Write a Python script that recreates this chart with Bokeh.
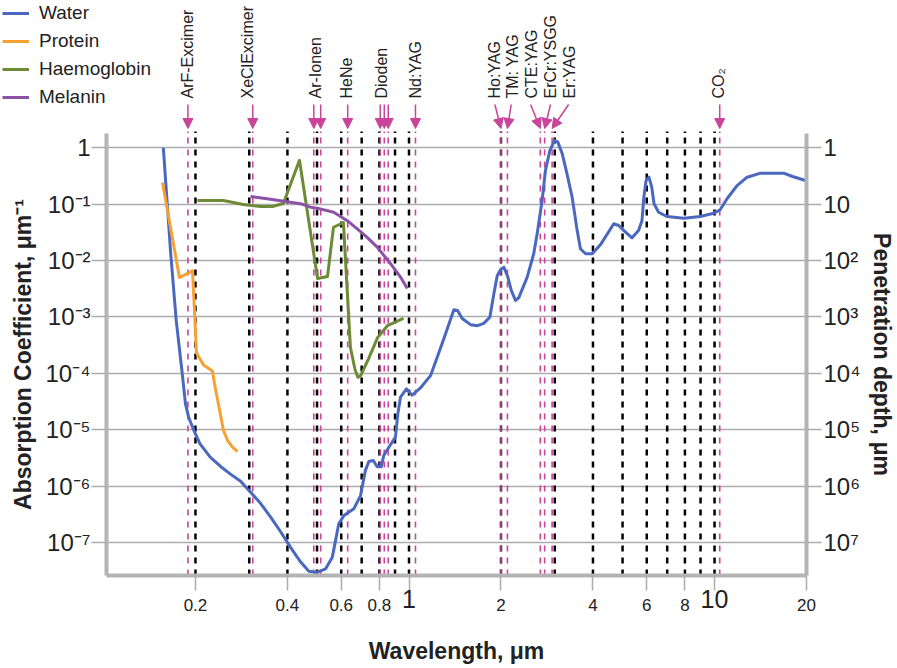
import math
from bokeh.plotting import figure
from bokeh.layouts import column
from bokeh.models import (FixedTicker, Legend, LegendItem, Arrow, NormalHead,
                          ColumnDataSource, LogAxis, Range1d)
from bokeh.core.properties import value
from bokeh.embed import file_html
from bokeh.resources import INLINE

# ---------------- data ----------------
water_wl = [0.157, 0.166, 0.173, 0.181, 0.1855, 0.190, 0.1976, 0.207, 0.2235, 0.2417,
            0.2598, 0.281, 0.303, 0.327, 0.353, 0.381, 0.409, 0.442, 0.470, 0.500,
            0.533, 0.561, 0.575, 0.589, 0.612, 0.660, 0.694, 0.720, 0.739, 0.764,
            0.787, 0.811, 0.827, 0.859, 0.903, 0.919, 0.938, 0.981, 1.024, 1.09,
            1.176, 1.237, 1.30, 1.367, 1.402, 1.442, 1.493, 1.590, 1.676, 1.757,
            1.839, 1.896, 1.944, 2.00, 2.045, 2.106, 2.164, 2.232, 2.288, 2.437,
            2.56, 2.627, 2.727, 2.796, 2.891, 2.996, 3.07, 3.174, 3.29, 3.42,
            3.552, 3.64, 3.783, 3.98, 4.23, 4.68, 4.86, 5.05, 5.37, 5.64,
            5.79, 5.87, 5.97, 6.10, 6.23, 6.34, 6.56, 6.98, 7.93, 8.98,
            9.94, 10.43, 10.99, 11.85, 12.79, 14.14, 16.84, 18.0, 19.86]
water_abs = [1.0, 1.32e-2, 8.7e-4, 1.0e-4, 2.88e-5, 1.67e-5, 9.7e-6, 5.6e-6, 3.26e-6, 2.23e-6,
             1.65e-6, 1.22e-6, 7.8e-7, 4.9e-7, 2.8e-7, 1.52e-7, 8.3e-8, 4.5e-8, 3.1e-8, 2.94e-8,
             3.4e-8, 5.5e-8, 1.09e-7, 2.15e-7, 3.0e-7, 3.97e-7, 6.8e-7, 1.9e-6, 2.73e-6, 2.85e-6,
             2.2e-6, 2.2e-6, 3.5e-6, 4.9e-6, 7.4e-6, 1.9e-5, 3.8e-5, 5.3e-5, 4.1e-5, 5.5e-5,
             9.1e-5, 1.93e-4, 4.1e-4, 9.0e-4, 1.34e-3, 1.30e-3, 9.4e-4, 7.3e-4, 7.0e-4, 7.7e-4,
             9.9e-4, 2.58e-3, 5.4e-3, 7.1e-3, 7.6e-3, 5.1e-3, 2.9e-3, 1.96e-3, 2.2e-3, 5.1e-3,
             1.32e-2, 3.0e-2, 0.116, 0.395, 0.895, 1.35, 1.26, 0.783, 0.346, 0.133,
             0.034, 0.0162, 0.0132, 0.0132, 0.019, 0.0449, 0.0419, 0.034, 0.0253, 0.034,
             0.0514, 0.133, 0.263, 0.301, 0.20, 0.102, 0.072, 0.0605, 0.0564, 0.0605,
             0.0692, 0.0795, 0.125, 0.214, 0.301, 0.355, 0.355, 0.31, 0.263]

protein_wl = [0.156, 0.1773, 0.1956, 0.2016, 0.2125, 0.2274, 0.2308, 0.247, 0.2546, 0.2644, 0.2746]
protein_abs = [0.243, 5.0e-3, 6.6e-3, 2.3e-4, 1.4e-4, 1.1e-4, 6.6e-5, 9.7e-6, 6.5e-6, 4.9e-6, 4.1e-6]

hb_wl = [0.203, 0.247, 0.287, 0.327, 0.357, 0.388, 0.438, 0.502, 0.541, 0.566,
         0.610, 0.643, 0.665, 0.680, 0.694, 0.737, 0.789, 0.850, 0.959]
hb_abs = [0.116, 0.116, 0.099, 0.091, 0.091, 0.103, 0.60, 4.8e-3, 5.2e-3, 0.039,
          0.047, 2.9e-4, 1.2e-4, 8.5e-5, 9.0e-5, 1.8e-4, 4.3e-4, 7.0e-4, 9.4e-4]

melanin_wl = [0.303, 0.343, 0.389, 0.441, 0.476, 0.500, 0.567, 0.628, 0.677, 0.728,
              0.787, 0.870, 0.938, 0.987]
melanin_abs = [0.137, 0.125, 0.113, 0.102, 0.0885, 0.085, 0.072, 0.051, 0.0366, 0.026,
               0.0173, 8.8e-3, 5.1e-3, 3.2e-3]

series_names = ["Water", "Protein", "Haemoglobin", "Melanin"]

# black dashed reference wavelengths
ref_wl = [0.2, 0.3, 0.4, 0.5, 0.6, 0.7, 0.8, 0.9, 1.0, 2.0, 3.0, 4.0, 5.0, 6.0, 7.0, 8.0, 9.0, 10.0]
# laser lines (magenta dashed) and where their arrows start
laser_wl = [0.189, 0.308, 0.488, 0.514, 0.63, 0.805, 0.83, 0.855, 1.05, 2.0, 2.1, 2.69, 2.78, 2.94, 10.4]
arrow_tail_wl = [0.189, 0.308, 0.488, 0.514, 0.63, 0.805, 0.83, 0.855, 1.05, 1.91, 2.16, 2.50, 2.905, 3.33, 10.4]
laser_names = ["ArF-Excimer", "XeClExcimer", "Ar-Ionen", "HeNe", "Dioden", "Nd:YAG",
               "Ho:YAG", "TM: YAG", "CTE:YAG", "ErCr:YSGG", "Er:YAG", "CO\u2082"]
laser_label_wl = [0.188, 0.296, 0.495, 0.623, 0.811, 1.05, 1.91, 2.187, 2.518, 2.905, 3.353, 10.33]

x_ticks = [0.2, 0.4, 0.6, 0.8, 1.0, 2.0, 4.0, 6.0, 8.0, 10.0, 20.0]
x_tick_labels = ["0.2", "0.4", "0.6", "0.8", "", "2", "4", "6", "8", "", "20"]
x_big_ticks = [1.0, 10.0]
x_big_labels = ["1", "10"]
y_ticks = [1e-7, 1e-6, 1e-5, 1e-4, 1e-3, 1e-2, 1e-1, 1.0]
y_left_labels = ["10\u207b\u2077", "10\u207b\u2076", "10\u207b\u2075", "10\u207b\u2074",
                 "10\u207b\u00b3", "10\u207b\u00b2", "10\u207b\u00b9", "1"]
y_right_labels = ["10\u2077", "10\u2076", "10\u2075", "10\u2074", "10\u00b3", "10\u00b2", "10", "1"]

# ---------------- styling ----------------
FONT = "Liberation Sans"
TXT = "#222222"
C_WATER = "#4a68bf"
C_PROT = "#f7a033"
C_HB = "#6d8b34"
C_MEL = "#8b52a6"
colors = [C_WATER, C_PROT, C_HB, C_MEL]
C_MAG = "#c9449a"
GRAY_AX = "#b4b4b4"
GRAY_GRID = "#acacac"

all_wl = [water_wl, protein_wl, hb_wl, melanin_wl]
all_abs = [water_abs, protein_abs, hb_abs, melanin_abs]

# ---------------- main chart ----------------
X0, X1 = 0.1023, 20.0
Y0, Y1 = 2.60e-8, 1.793
p = figure(width=897, height=535, x_axis_type="log", y_axis_type="log",
           x_range=Range1d(X0, X1), y_range=Range1d(Y0, Y1),
           output_backend="svg", toolbar_location=None,
           min_border_left=106, min_border_right=91, min_border_top=0, min_border_bottom=93)
p.frame_align = False
p.outline_line_color = None
p.xgrid.visible = False
p.ygrid.ticker = FixedTicker(ticks=y_ticks)
p.ygrid.grid_line_color = GRAY_GRID
p.ygrid.grid_line_width = 1.5

xax = p.xaxis[0]
yax = p.yaxis[0]
right = LogAxis(axis_label="Penetration depth, \u03bcm")
p.add_layout(right, "right")

xax.ticker = FixedTicker(ticks=x_ticks)
xax.major_label_overrides = dict(zip(x_ticks, x_tick_labels))
yax.ticker = FixedTicker(ticks=y_ticks)
yax.major_label_overrides = dict(zip(y_ticks, y_left_labels))
right.ticker = FixedTicker(ticks=y_ticks)
right.major_label_overrides = dict(zip(y_ticks, y_right_labels))
yax.axis_label = "Absorption Coefficient, \u03bcm\u207b\u00b9"

for ax in [xax, yax, right]:
    ax.axis_line_color = GRAY_AX
    ax.axis_line_width = 4
    ax.major_tick_line_color = GRAY_GRID
    ax.major_tick_line_width = 1.5
    ax.major_tick_out = 15
    ax.major_tick_in = 0
    ax.minor_tick_line_color = None
    ax.major_label_text_font = FONT
    ax.major_label_text_color = TXT
    ax.axis_label_text_font = FONT
    ax.axis_label_text_font_style = "bold"
    ax.axis_label_text_font_size = "23px"
    ax.axis_label_text_color = TXT

yax.major_label_text_font_size = "24px"
yax.major_label_standoff = 1
yax.axis_label_standoff = 6
right.major_label_text_font_size = "24px"
right.major_label_standoff = 2
right.axis_label_standoff = 5
xax.major_label_text_font_size = "17px"
xax.major_label_standoff = 8

# second bottom axis: larger labels for 1 and 10, plus the axis title
xbig = LogAxis(ticker=FixedTicker(ticks=x_big_ticks),
               major_label_overrides=dict(zip(x_big_ticks, x_big_labels)),
               axis_label="Wavelength, \u03bcm")
xbig.axis_line_color = None
xbig.major_tick_line_color = None
xbig.minor_tick_line_color = None
xbig.major_tick_out = 0
xbig.major_tick_in = 0
xbig.major_label_standoff = -24
xbig.major_label_text_font = FONT
xbig.major_label_text_font_size = "25px"
xbig.major_label_text_color = TXT
xbig.axis_label_text_font = FONT
xbig.axis_label_text_font_style = "bold"
xbig.axis_label_text_font_size = "23px"
xbig.axis_label_text_color = TXT
xbig.axis_label_standoff = 27
p.add_layout(xbig, "below")

# reference dashed lines
n = len(ref_wl)
p.segment(x0=ref_wl, y0=[Y0] * n, x1=ref_wl, y1=[Y1] * n,
          line_color="black", line_width=2.5, line_dash="6 6")
m = len(laser_wl)
p.segment(x0=laser_wl, y0=[Y0] * m, x1=laser_wl, y1=[Y1] * m,
          line_color=C_MAG, line_width=1.6, line_dash="6 6")

# curves
for wl, ab, c in zip(all_wl, all_abs, colors):
    p.line(wl, ab, line_color=c, line_width=3, line_join="round")

# ---------------- top strip: legend, laser names, arrows ----------------
top = figure(width=897, height=133, x_axis_type="log",
             x_range=Range1d(0.04602, 39.71), y_range=Range1d(0, 133),
             x_axis_location=None, y_axis_location=None,
             output_backend="svg", toolbar_location=None, min_border=0)
top.frame_align = False
top.outline_line_color = None
top.grid.visible = False

# stubs of the dashed lines reaching into the strip
top.segment(x0=ref_wl, y0=[0] * n, x1=ref_wl, y1=[2] * n,
            line_color="black", line_width=2.5)
top.segment(x0=laser_wl, y0=[0] * m, x1=laser_wl, y1=[2] * m,
            line_color=C_MAG, line_width=1.6)

# legend: the same series on a hidden range (only their legend samples are seen)
top.extra_y_ranges = {"hidden": Range1d(1e3, 1e4)}
items = []
for name, wl, ab, c in zip(series_names, all_wl, all_abs, colors):
    r = top.line(wl, ab, line_color=c, line_width=3, y_range_name="hidden")
    items.append(LegendItem(label=name, renderers=[r]))
legend = Legend(items=items, location=(2, 25), margin=0, padding=5, spacing=6,
                glyph_width=27, glyph_height=20, label_height=20, label_standoff=10,
                label_text_font=FONT, label_text_font_size="19px", label_text_color=TXT,
                background_fill_alpha=0, border_line_color=None)
top.add_layout(legend)

arrow_src = ColumnDataSource(dict(x0=arrow_tail_wl, y0=[29] * m, x1=laser_wl, y1=[5] * m))
top.add_layout(Arrow(source=arrow_src, x_start="x0", y_start="y0", x_end="x1", y_end="y1",
                     line_color=C_MAG, line_width=1.5,
                     end=NormalHead(size=10, fill_color=C_MAG, line_color=C_MAG)))

top.text(x=laser_label_wl, y=[35] * len(laser_names), text=laser_names, angle=math.pi / 2,
         text_align="left", text_baseline="middle", text_font=value(FONT),
         text_font_size="16px", text_color=TXT)

layout = column(top, p, spacing=0)
open("out.html", "w").write(file_html(layout, INLINE))
